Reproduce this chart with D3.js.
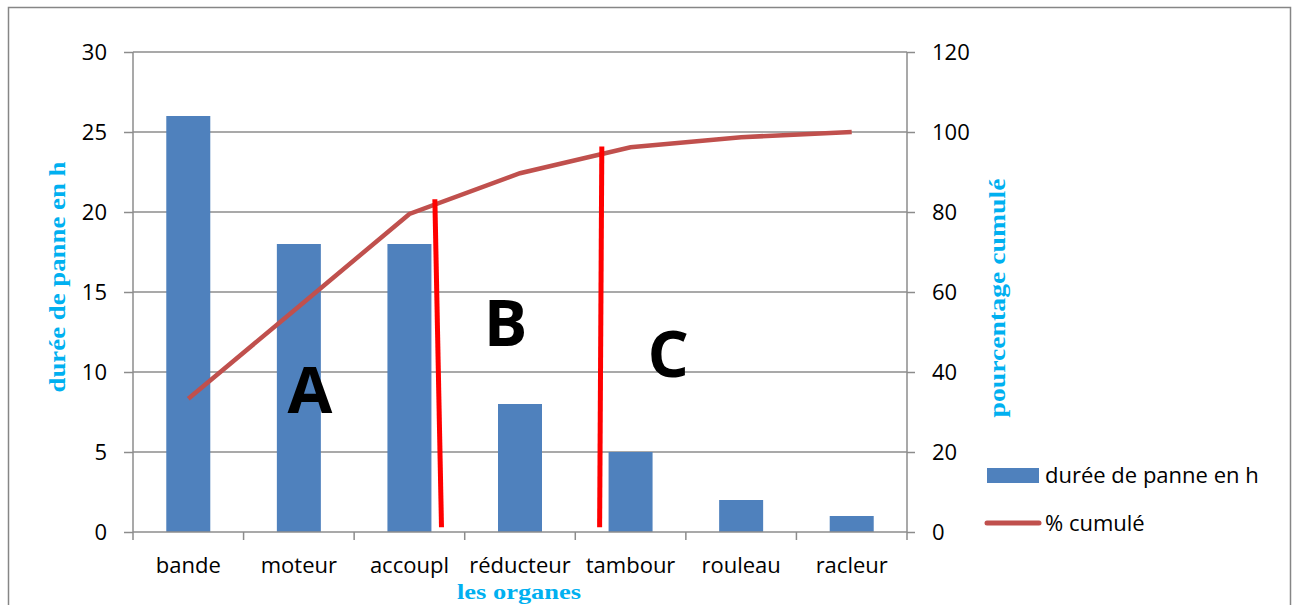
<!DOCTYPE html>
<html><head><meta charset="utf-8">
<script src="https://cdn.jsdelivr.net/npm/d3@7"></script>
<style>body{margin:0;background:#fff}</style>
</head><body>
<script>
const categories = ["bande","moteur","accoupl","réducteur","tambour","rouleau","racleur"];
const durations = [26,18,18,8,5,2,1];
const cumulPct = [33.3,56.4,79.5,89.7,96.2,98.7,100];
const leftTicks = [0,5,10,15,20,25,30];
const rightTicks = [0,20,40,60,80,100,120];
// zone labels: position in category units, value on left axis
const zoneLabels = [{t:"A",pos:1.60,v:7.45},{t:"B",pos:3.37,v:11.6},{t:"C",pos:4.84,v:9.7}];
const separators = [{x1:2.73,y1:20.8,x2:2.79,y2:0.3},{x1:4.24,y1:24.1,x2:4.22,y2:0.3}];

const W=1298,H=605;
const svg=d3.select("body").append("svg").attr("width",W).attr("height",H);
const tickFont="'Open Sans', 'Liberation Sans', sans-serif";
const fs=22;
svg.append("rect").attr("x",8.5).attr("y",7.5).attr("width",1282).attr("height",610)
  .attr("fill","none").attr("stroke","#868686").attr("stroke-width",1.5);

const m={l:133,r:907,t:52,b:532};
const xc=d3.scaleLinear().domain([0,categories.length]).range([m.l,m.r]);
const y=d3.scaleLinear().domain([0,30]).range([m.b,m.t]);
const y2=d3.scaleLinear().domain([0,120]).range([m.b,m.t]);

// gridlines
svg.append("g").selectAll("line").data(leftTicks.slice(1)).join("line")
  .attr("x1",m.l).attr("x2",m.r).attr("y1",d=>y(d)).attr("y2",d=>y(d))
  .attr("stroke","#8c8c8c").attr("stroke-width",1.5);

// bars
svg.append("g").selectAll("rect").data(durations).join("rect")
  .attr("x",(d,i)=>xc(i+0.5)-22).attr("width",44)
  .attr("y",d=>y(d)).attr("height",d=>m.b-y(d)).attr("fill","#4F81BD");

// axes
const la=svg.append("g").attr("transform",`translate(${m.l},0)`)
  .call(d3.axisLeft(y).tickValues(leftTicks).tickSize(9).tickPadding(17));
const ra=svg.append("g").attr("transform",`translate(${m.r},0)`)
  .call(d3.axisRight(y2).tickValues(rightTicks).tickSize(8).tickPadding(17));
[la,ra].forEach(a=>{a.select(".domain").remove();
  a.selectAll("line").attr("stroke","#8c8c8c").attr("stroke-width",1.5);
  a.selectAll("text").attr("font-family",tickFont).attr("font-size",fs).attr("fill","#000");});
svg.append("line").attr("x1",m.l).attr("x2",m.l).attr("y1",m.t).attr("y2",m.b).attr("stroke","#8c8c8c").attr("stroke-width",1.5);
svg.append("line").attr("x1",m.r).attr("x2",m.r).attr("y1",m.t).attr("y2",m.b).attr("stroke","#8c8c8c").attr("stroke-width",1.5);

// bottom axis
svg.append("line").attr("x1",m.l).attr("x2",m.r).attr("y1",m.b).attr("y2",m.b).attr("stroke","#8c8c8c").attr("stroke-width",1.5);
svg.append("g").selectAll("line").data(d3.range(categories.length+1)).join("line")
  .attr("x1",d=>xc(d)).attr("x2",d=>xc(d)).attr("y1",m.b).attr("y2",m.b+8)
  .attr("stroke","#8c8c8c").attr("stroke-width",1.5);
svg.append("g").selectAll("text").data(categories).join("text")
  .attr("x",(d,i)=>xc(i+0.5)).attr("y",573).attr("text-anchor","middle")
  .attr("font-family",tickFont).attr("font-size",fs).text(d=>d);

// cumulative line
const line=d3.line().x((d,i)=>xc(i+0.5)).y(d=>y2(d));
svg.append("path").datum(cumulPct).attr("d",line).attr("fill","none")
  .attr("stroke","#C0504D").attr("stroke-width",4.5);

// separators
svg.append("g").selectAll("line").data(separators).join("line")
  .attr("x1",d=>xc(d.x1)).attr("y1",d=>y(d.y1)).attr("x2",d=>xc(d.x2)).attr("y2",d=>y(d.y2))
  .attr("stroke","#FF0000").attr("stroke-width",5);

// zone labels
svg.append("g").selectAll("text").data(zoneLabels).join("text")
  .attr("x",d=>xc(d.pos)).attr("y",d=>y(d.v))
  .attr("text-anchor","middle").attr("font-family",tickFont).attr("font-weight","bold")
  .attr("font-size",65).text(d=>d.t);

// axis titles
const titleFont="'Liberation Serif','DejaVu Serif',serif";
function title(tr,len,txt,size){
  svg.append("text").attr("transform",tr).attr("text-anchor","middle")
   .attr("font-family",titleFont).attr("font-weight","bold").attr("font-size",size).attr("fill","#00B0F0")
   .attr("textLength",len).attr("lengthAdjust","spacingAndGlyphs").text(txt);
}
title("translate(65,277) rotate(-90)",231,"durée de panne en h",24);
title("translate(1005,298) rotate(-90)",239,"pourcentage cumulé",24);
title("translate(519,599)",124,"les organes",22);

// legend
const lg=svg.append("g");
lg.append("rect").attr("x",987).attr("y",468).attr("width",52).attr("height",15).attr("fill","#4F81BD");
lg.append("text").attr("x",1045).attr("y",483).attr("font-family",tickFont).attr("font-size",fs).text("durée de panne en h");
lg.append("line").attr("x1",987).attr("x2",1039).attr("y1",523).attr("y2",523).attr("stroke","#C0504D").attr("stroke-width",5).attr("stroke-linecap","round");
lg.append("text").attr("x",1045).attr("y",531).attr("font-family",tickFont).attr("font-size",fs).text("% cumulé");
</script>
</body></html>
